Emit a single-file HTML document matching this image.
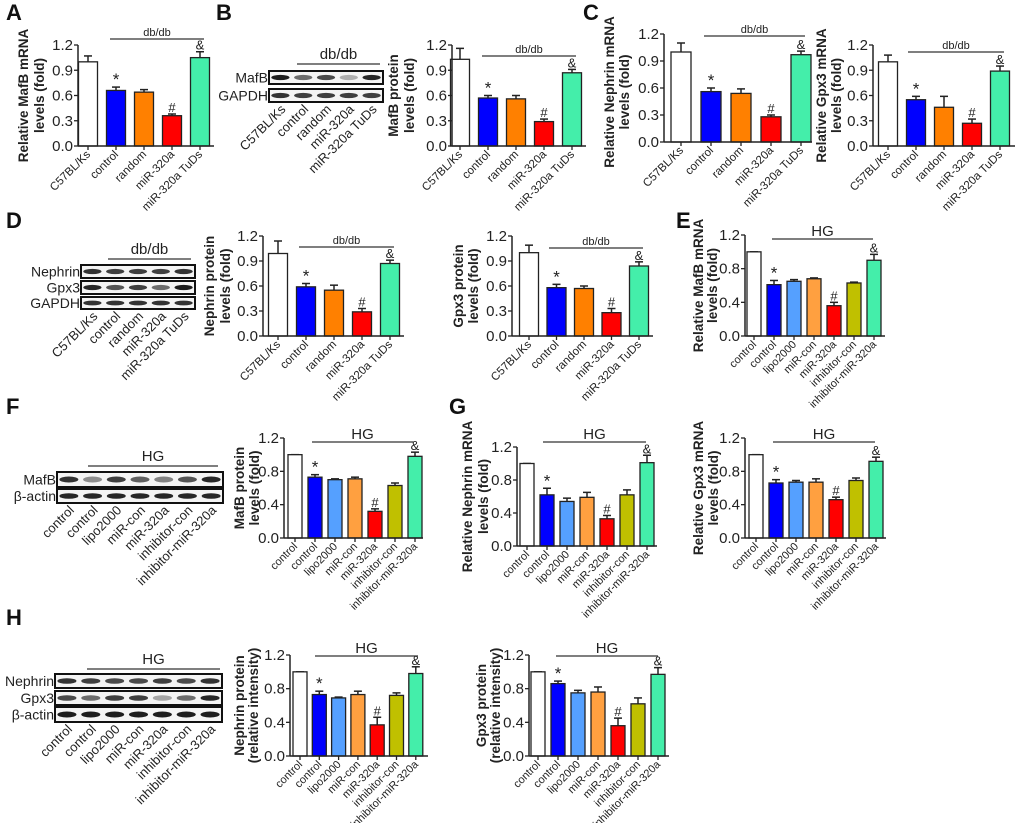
<!DOCTYPE html>
<html><head><meta charset="utf-8"><style>
html,body{margin:0;padding:0;background:#fff;}
svg{display:block;font-family:"Liberation Sans",Arial,sans-serif;}
</style></head><body>
<svg id="fig" width="1020" height="823" viewBox="0 0 1020 823" xmlns="http://www.w3.org/2000/svg"></svg>
<script>
// ---------- data ----------
const catsDb = ["C57BL/Ks","control","random","miR-320a","miR-320a TuDs"];
const catsHg = ["control","control","lipo2000","miR-con","miR-320a","inhibitor-con","inhibitor-miR-320a"];
const ticks03 = [0.0,0.3,0.6,0.9,1.2];
const ticks04 = [0.0,0.4,0.8,1.2];
const ticks03Labels = ["0.0","0.3","0.6","0.9","1.2"];
const ticks04Labels = ["0.0","0.4","0.8","1.2"];
const marks5 = ["","*","","#","&"];
const marks7 = ["","*","","","#","","&"];

const valA = [1.00,0.66,0.64,0.36,1.05];
const errA = [0.07,0.04,0.03,0.02,0.07];
const valB = [1.03,0.57,0.56,0.29,0.87];
const errB = [0.13,0.03,0.04,0.03,0.04];
const valC1 = [1.00,0.56,0.54,0.28,0.97];
const errC1 = [0.10,0.04,0.05,0.02,0.04];
const valC2 = [1.00,0.55,0.46,0.27,0.89];
const errC2 = [0.08,0.04,0.13,0.05,0.06];
const valD1 = [0.99,0.59,0.55,0.29,0.87];
const errD1 = [0.15,0.04,0.06,0.04,0.04];
const valD2 = [1.00,0.58,0.57,0.28,0.84];
const errD2 = [0.09,0.04,0.03,0.05,0.05];
const valE = [1.00,0.61,0.65,0.68,0.36,0.63,0.90];
const errE = [0,0.05,0.02,0.01,0.04,0.01,0.07];
const valF = [1.00,0.73,0.70,0.71,0.32,0.63,0.98];
const errF = [0,0.03,0.01,0.02,0.03,0.03,0.05];
const valG1 = [1.00,0.62,0.54,0.59,0.33,0.62,1.01];
const errG1 = [0,0.08,0.04,0.06,0.04,0.06,0.09];
const valG2 = [1.00,0.66,0.67,0.67,0.46,0.69,0.92];
const errG2 = [0,0.04,0.02,0.04,0.03,0.03,0.05];
const valH1 = [1.00,0.73,0.69,0.73,0.37,0.72,0.98];
const errH1 = [0,0.04,0.01,0.04,0.09,0.03,0.08];
const valH2 = [1.00,0.86,0.75,0.76,0.36,0.62,0.97];
const errH2 = [0,0.03,0.03,0.06,0.09,0.07,0.08];

const col5 = ["#ffffff","#0000ff","#ff8000","#ff0000","#44eeaa"];
const col7 = ["#ffffff","#0000ff","#55a0ff","#ffa040","#ff0000","#c0c000","#44eeaa"];

// ---------- helpers ----------
const NS="http://www.w3.org/2000/svg";
const svg=document.getElementById('fig');
function el(tag,attrs,parent,txt){
  const e=document.createElementNS(NS,tag);
  for(const k in attrs) e.setAttribute(k,attrs[k]);
  if(txt!==undefined) e.textContent=txt;
  (parent||svg).appendChild(e);
  return e;
}

function chart(id,cfg,vals,errs,cats,tks,tkl,cols,marks){
  const g=el('g',{},svg);
  
  
  const y=v=>cfg.y0-(v/1.2)*(cfg.y0-cfg.y1);
  const x=i=>cfg.xb+i*cfg.sp;
  vals.forEach((v,i)=>{
    const eb=el('line',{x1:x(i),x2:x(i),y1:y(v),y2:y(v+errs[i]),stroke:'#222','stroke-width':1.5},g);
    
    
    const cap=el('line',{x1:x(i)-4,x2:x(i)+4,y1:y(v+errs[i]),y2:y(v+errs[i]),stroke:'#222','stroke-width':1.5},g);
    
    
    const r=el('rect',{x:x(i)-cfg.bw/2,y:y(v),width:cfg.bw,height:cfg.y0-y(v),fill:cols[i],stroke:'#222','stroke-width':1.3},g);
    
    
    if(marks[i]){
      const m=el('text',{x:x(i),y:y(v+errs[i])-2,'text-anchor':'middle','font-size':marks[i]=='*'?17:13,fill:'#222'},g,marks[i]);
      
      
    }
    const tk=el('line',{x1:x(i),x2:x(i),y1:cfg.y0,y2:cfg.y0+4,stroke:'#222','stroke-width':1.3},g);
    
    
    const lx=x(i)+3, ly=cfg.y0+9;
    const t=el('text',{x:lx,y:ly,'text-anchor':'end','font-size':cfg.lf||11.5,fill:'#222',transform:`rotate(-45 ${lx} ${ly})`},g,cats[i]);
    
    
  });
  const ya=el('line',{x1:cfg.ax,x2:cfg.ax,y1:cfg.y1,y2:cfg.y0,stroke:'#222','stroke-width':1.5},g);
  
  
  const xa=el('line',{x1:cfg.ax,x2:cfg.xe,y1:cfg.y0,y2:cfg.y0,stroke:'#222','stroke-width':1.5},g);
  
  
  tks.forEach((v,i)=>{
    el('line',{x1:cfg.ax-4,x2:cfg.ax,y1:y(v),y2:y(v),stroke:'#222','stroke-width':1.3},g);
    const t=el('text',{x:cfg.ax-5,y:y(v)+5,'text-anchor':'end','font-size':15,fill:'#222'},g,tkl[i]);
    
    
  });
  const gl=el('line',{x1:cfg.g1,x2:cfg.g2,y1:cfg.gy,y2:cfg.gy,stroke:'#333','stroke-width':1.3},g);
  
  
  const gt=el('text',{x:(cfg.g1+cfg.g2)/2,y:cfg.gy-3,'text-anchor':'middle','font-size':cfg.gf,fill:'#222'},g,cfg.gtxt);
  
  
  const my=(cfg.y0+cfg.y1)/2+(cfg.tyo||0);
  cfg.title.forEach((s,k)=>{
    const tx=cfg.tx[k];
    const t=el('text',{x:tx,y:my,'text-anchor':'middle','font-size':cfg.tf||13.5,'font-weight':'bold',fill:'#222',transform:`rotate(-90 ${tx} ${my})`},g,s);
    
    
  });
}

function blot(id,b,rows,intens,lanes,grp){
  const g=el('g',{},svg);
  
  
  const n=lanes.length, lw=(b.x2-b.x1)/n;
  rows.forEach((r,ri)=>{
    const [y1,y2]=b.rows[ri];
    const box=el('rect',{x:b.x1,y:y1,width:b.x2-b.x1,height:y2-y1,fill:'#f4f4f4',stroke:'#111','stroke-width':2},g);
    
    
    const lab=el('text',{x:b.x1-1,y:(y1+y2)/2+5,'text-anchor':'end','font-size':14,fill:'#222'},g,r);
    
    
    for(let i=0;i<n;i++){
      const a=intens[ri][i];
      el('ellipse',{cx:b.x1+lw*(i+0.5),cy:(y1+y2)/2,rx:lw*0.4,ry:(y2-y1)*0.2,fill:'#111','fill-opacity':a},g);
    }
  });
  const yb=b.rows[b.rows.length-1][1];
  lanes.forEach((s,i)=>{
    const lx=b.x1+lw*(i+0.5)+6, ly=yb+8;
    const t=el('text',{x:lx,y:ly,'text-anchor':'end','font-size':13,fill:'#222',transform:`rotate(-45 ${lx} ${ly})`},g,s);
    
    
  });
  el('line',{x1:grp.x1,x2:grp.x2,y1:grp.y,y2:grp.y,stroke:'#333','stroke-width':1.3},g);
  const gt=el('text',{x:(grp.x1+grp.x2)/2,y:grp.y-5,'text-anchor':'middle','font-size':15,fill:'#222'},g,grp.t);
  
  
}

function panel(l,x,y){
  const t=el('text',{x:x,y:y,'font-size':22,'font-weight':'bold',fill:'#111'},svg,l);
  
  
}

panel('A',6,20); panel('B',216,20); panel('C',583,20); panel('D',6,228);
panel('E',676,228); panel('F',6,414); panel('G',449,414); panel('H',6,625);

chart('a',{ax:78,xe:214,y0:146,y1:45,xb:88,sp:28,bw:19,g1:110,g2:204,gy:39,gf:11,gtxt:'db/db',title:['Relative MafB mRNA','levels (fold)'],tx:[28,44]},valA,errA,catsDb,ticks03,ticks03Labels,col5,marks5);
chart('b',{ax:452,xe:586,y0:146,y1:45,xb:460,sp:28,bw:19,g1:482,g2:576,gy:56,gf:11,gtxt:'db/db',title:['MafB protein','levels (fold)'],tx:[398,414]},valB,errB,catsDb,ticks03,ticks03Labels,col5,marks5);
chart('c1',{ax:664,xe:812,y0:142,y1:34,xb:681,sp:30,bw:20,g1:704,g2:805,gy:36,gf:11,gtxt:'db/db',title:['Relative Nephrin mRNA','levels (fold)'],tx:[614,629],tyo:4}, valC1,errC1,catsDb,ticks03,ticks03Labels,col5,marks5);
chart('c2',{ax:873,xe:1015,y0:146,y1:45,xb:888,sp:28,bw:19,g1:908,g2:1004,gy:52,gf:11,gtxt:'db/db',title:['Relative Gpx3 mRNA','levels (fold)'],tx:[826,841]},valC2,errC2,catsDb,ticks03,ticks03Labels,col5,marks5);
chart('d1',{ax:263,xe:404,y0:336,y1:236,xb:278,sp:28,bw:19,g1:299,g2:394,gy:247,gf:11,gtxt:'db/db',title:['Nephrin protein','levels (fold)'],tx:[214,230]},valD1,errD1,catsDb,ticks03,ticks03Labels,col5,marks5);
chart('d2',{ax:512,xe:653,y0:336,y1:236,xb:529,sp:27.5,bw:19,g1:549,g2:643,gy:248,gf:11,gtxt:'db/db',title:['Gpx3 protein','levels (fold)'],tx:[463,478]},valD2,errD2,catsDb,ticks03,ticks03Labels,col5,marks5);
chart('e',{ax:745,xe:885,y0:336,y1:235,xb:754,sp:20,bw:14,g1:772,g2:873,gy:239,gf:15,gtxt:'HG',title:['Relative MafB mRNA','levels (fold)'],tx:[703,717],lf:11},valE,errE,catsHg,ticks04,ticks04Labels,col7,marks7);
chart('f',{ax:284,xe:423,y0:538,y1:438,xb:295,sp:20,bw:14,g1:312,g2:413,gy:442,gf:15,gtxt:'HG',title:['MafB protein','levels (fold)'],tx:[244,259],lf:11},valF,errF,catsHg,ticks04,ticks04Labels,col7,marks7);
chart('g1',{ax:517,xe:657,y0:546,y1:447,xb:527,sp:20,bw:14,g1:543,g2:646,gy:442,gf:15,gtxt:'HG',title:['Relative Nephrin mRNA','levels (fold)'],tx:[472,488],lf:11},valG1,errG1,catsHg,ticks04,ticks04Labels,col7,marks7);
chart('g2',{ax:745,xe:886,y0:538,y1:438,xb:756,sp:20,bw:14,g1:773,g2:875,gy:442,gf:15,gtxt:'HG',title:['Relative Gpx3 mRNA','levels (fold)'],tx:[703,718],lf:11},valG2,errG2,catsHg,ticks04,ticks04Labels,col7,marks7);
chart('h1',{ax:290,xe:428,y0:756,y1:655,xb:300,sp:19.3,bw:14,g1:315,g2:418,gy:656,gf:15,gtxt:'HG',title:['Nephrin protein','(relative intensity)'],tx:[244,258],lf:11},valH1,errH1,catsHg,ticks04,ticks04Labels,col7,marks7);
chart('h2',{ax:529,xe:669,y0:756,y1:655,xb:538,sp:20,bw:14,g1:556,g2:658,gy:656,gf:15,gtxt:'HG',title:['Gpx3 protein','(relative intensity)'],tx:[486,500],lf:11},valH2,errH2,catsHg,ticks04,ticks04Labels,col7,marks7);

blot('b',{x1:269,x2:383,rows:[[71,84],[89,102]]},['MafB','GAPDH'],
  [[0.95,0.6,0.75,0.3,0.9],[0.85,0.8,0.8,0.8,0.8]],catsDb,{x1:297,x2:380,y:64,t:'db/db'});
blot('d',{x1:81,x2:195,rows:[[265,278],[281,294],[297,309]]},['Nephrin','Gpx3','GAPDH'],
  [[0.85,0.8,0.8,0.8,0.85],[0.9,0.7,0.8,0.6,0.95],[0.85,0.85,0.85,0.85,0.85]],catsDb,{x1:108,x2:191,y:259,t:'db/db'});
blot('f',{x1:57,x2:223,rows:[[472,487],[489,503]]},['MafB','β-actin'],
  [[0.85,0.45,0.8,0.65,0.5,0.7,0.9],[0.9,0.9,0.9,0.9,0.9,0.9,0.9]],catsHg,{x1:88,x2:218,y:466,t:'HG'});
blot('h',{x1:55,x2:222,rows:[[674,688],[691,705],[707,722]]},['Nephrin','Gpx3','β-actin'],
  [[0.85,0.8,0.75,0.75,0.8,0.75,0.85],[0.75,0.6,0.8,0.8,0.35,0.6,0.9],[0.95,0.95,0.95,0.95,0.95,0.95,0.95]],catsHg,{x1:87,x2:220,y:669,t:'HG'});
</script>
</body></html>
